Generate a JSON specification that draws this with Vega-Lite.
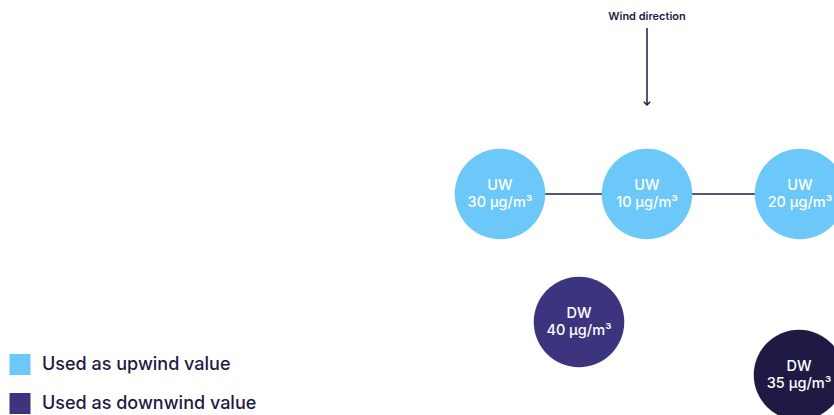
{
  "$schema": "https://vega.github.io/schema/vega-lite/v6.json",
  "width": 834,
  "height": 415,
  "autosize": {"type": "none"},
  "padding": 0,
  "background": "white",
  "config": {"view": {"stroke": null}},
  "datasets": {
    "nodes": [
      {"px": 500, "py": 194, "kind": "up", "label": ["UW", "30 µg/m³"]},
      {"px": 647, "py": 194, "kind": "up", "label": ["UW", "10 µg/m³"]},
      {"px": 800, "py": 194, "kind": "up", "label": ["UW", "20 µg/m³"]},
      {"px": 579, "py": 322, "kind": "down", "label": ["DW", "40 µg/m³"]},
      {"px": 799, "py": 375, "kind": "downdark", "label": ["DW", "35 µg/m³"]}
    ],
    "links": [{"px": 500, "px2": 800, "py": 194}],
    "arrow": [{"px": 647, "py": 28, "py2": 105, "title": "Wind direction", "ty": 17}],
    "legend": [
      {"px": 20, "py": 364.5, "kind": "up", "text": "Used as upwind value"},
      {"px": 20, "py": 403.5, "kind": "down", "text": "Used as downwind value"}
    ]
  },
  "layer": [
    {
      "data": {"name": "links"},
      "mark": {"type": "rule", "color": "#1F1A44", "strokeWidth": 1.5},
      "encoding": {
        "x": {"field": "px", "type": "quantitative", "scale": {"domain": [0, 834], "nice": false, "zero": false}, "axis": null},
        "x2": {"field": "px2"},
        "y": {"field": "py", "type": "quantitative", "scale": {"domain": [0, 415], "reverse": true, "nice": false, "zero": false}, "axis": null}
      }
    },
    {
      "data": {"name": "nodes"},
      "mark": {"type": "point", "shape": "circle", "filled": true, "opacity": 1, "size": 8200},
      "encoding": {
        "x": {"field": "px", "type": "quantitative"},
        "y": {"field": "py", "type": "quantitative"},
        "color": {"field": "kind", "type": "nominal", "legend": null,
          "scale": {"domain": ["up", "down", "downdark"], "range": ["#6CC8F9", "#3D3480", "#1F1A44"]}}
      }
    },
    {
      "data": {"name": "nodes"},
      "mark": {"type": "text", "color": "white", "font": "Inter", "fontSize": 14.5, "fontWeight": 500, "align": "center", "baseline": "middle", "lineHeight": 17, "dy": -8.5},
      "encoding": {
        "x": {"field": "px", "type": "quantitative"},
        "y": {"field": "py", "type": "quantitative"},
        "text": {"field": "label"}
      }
    },
    {
      "data": {"name": "arrow"},
      "mark": {"type": "rule", "color": "#1F1A44", "strokeWidth": 1.5},
      "encoding": {
        "x": {"field": "px", "type": "quantitative"},
        "y": {"field": "py", "type": "quantitative"},
        "y2": {"field": "py2"}
      }
    },
    {
      "data": {"name": "arrow"},
      "mark": {"type": "point", "shape": "M-1,-1L0,0L1,-1", "filled": false, "strokeWidth": 1.5, "color": "#1F1A44", "opacity": 1, "size": 40},
      "encoding": {
        "x": {"field": "px", "type": "quantitative"},
        "y": {"field": "py2", "type": "quantitative"}
      }
    },
    {
      "data": {"name": "arrow"},
      "mark": {"type": "text", "color": "#1F1A44", "font": "Inter", "fontSize": 11, "fontWeight": 600, "align": "center", "baseline": "middle"},
      "encoding": {
        "x": {"field": "px", "type": "quantitative"},
        "y": {"field": "ty", "type": "quantitative"},
        "text": {"field": "title"}
      }
    },
    {
      "data": {"name": "legend"},
      "mark": {"type": "point", "shape": "square", "filled": true, "opacity": 1, "size": 441},
      "encoding": {
        "x": {"field": "px", "type": "quantitative"},
        "y": {"field": "py", "type": "quantitative"},
        "color": {"field": "kind", "type": "nominal", "legend": null}
      }
    },
    {
      "data": {"name": "legend"},
      "mark": {"type": "text", "color": "#1F1A44", "font": "Inter", "fontSize": 18, "fontWeight": 500, "align": "left", "baseline": "middle", "dx": 22},
      "encoding": {
        "x": {"field": "px", "type": "quantitative"},
        "y": {"field": "py", "type": "quantitative"},
        "text": {"field": "text"}
      }
    }
  ]
}
